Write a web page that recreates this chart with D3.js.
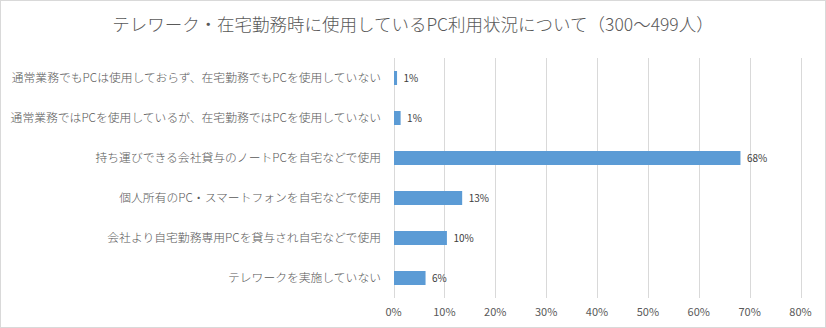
<!DOCTYPE html>
<html>
<head>
<meta charset="utf-8">
<script src="https://cdn.jsdelivr.net/npm/d3@7"></script>
<style>
  html, body { margin: 0; padding: 0; background: #fff; }
  svg { display: block; }
  text { font-family: "Noto Sans CJK JP", "Noto Sans", sans-serif; }
</style>
</head>
<body>
<svg id="chart" width="826" height="328"></svg>
<script>
const title = "テレワーク・在宅勤務時に使用しているPC利用状況について（300〜499人）";
const categories = [
  "通常業務でもPCは使用しておらず、在宅勤務でもPCを使用していない",
  "通常業務ではPCを使用しているが、在宅勤務ではPCを使用していない",
  "持ち運びできる会社貸与のノートPCを自宅などで使用",
  "個人所有のPC・スマートフォンを自宅などで使用",
  "会社より自宅勤務専用PCを貸与され自宅などで使用",
  "テレワークを実施していない"
];
const values = [0.6, 1.3, 68.1, 13.4, 10.4, 6.2];
const ticks = [0, 10, 20, 30, 40, 50, 60, 70, 80];

const W = 826, H = 328;
const margin = { left: 393.5, right: 25.5, top: 58, bottom: 30 };
const svg = d3.select("#chart");

// outer frame
svg.append("rect")
  .attr("x", 0.5).attr("y", 0.5)
  .attr("width", W - 1).attr("height", H - 1)
  .attr("fill", "#fff").attr("stroke", "#d9d9d9");

svg.append("text")
  .attr("x", 413).attr("y", 31)
  .attr("text-anchor", "middle")
  .attr("font-size", 17.5)
  .attr("font-weight", 300)
  .attr("fill", "#595959")
  .text(title);

const x = d3.scaleLinear().domain([0, 80]).range([margin.left, W - margin.right]);
const y = d3.scaleBand().domain(categories).range([margin.top, 298]).paddingInner(0.65).paddingOuter(0.325);

// vertical gridlines
svg.append("g")
  .selectAll("line")
  .data(ticks)
  .join("line")
  .attr("x1", d => Math.round(x(d)) + 0.5)
  .attr("x2", d => Math.round(x(d)) + 0.5)
  .attr("y1", margin.top)
  .attr("y2", 298)
  .attr("stroke", "#d9d9d9")
  .attr("stroke-width", 1);

// x tick labels
svg.append("g")
  .selectAll("text")
  .data(ticks)
  .join("text")
  .attr("x", d => x(d))
  .attr("y", 316)
  .attr("text-anchor", "middle")
  .attr("font-size", 11)
  .attr("fill", "#595959")
  .text(d => d + "%");

// bars
svg.append("g")
  .selectAll("rect")
  .data(values)
  .join("rect")
  .attr("x", x(0) + 0.5)
  .attr("y", (d, i) => y(categories[i]))
  .attr("width", d => x(d) - x(0))
  .attr("height", y.bandwidth())
  .attr("fill", "#5b9bd5");

// value labels
svg.append("g")
  .selectAll("text")
  .data(values)
  .join("text")
  .attr("x", d => x(d) + 7)
  .attr("y", (d, i) => y(categories[i]) + y.bandwidth() / 2)
  .attr("dy", "0.35em")
  .attr("font-size", 10)
  .attr("fill", "#404040")
  .text(d => Math.round(d) + "%");

// category labels
svg.append("g")
  .selectAll("text")
  .data(categories)
  .join("text")
  .attr("x", 381)
  .attr("y", d => y(d) + y.bandwidth() / 2)
  .attr("dy", "0.35em")
  .attr("text-anchor", "end")
  .attr("font-size", 11.8)
  .attr("font-weight", 300)
  .attr("fill", "#595959")
  .text(d => d);
</script>
</body>
</html>
